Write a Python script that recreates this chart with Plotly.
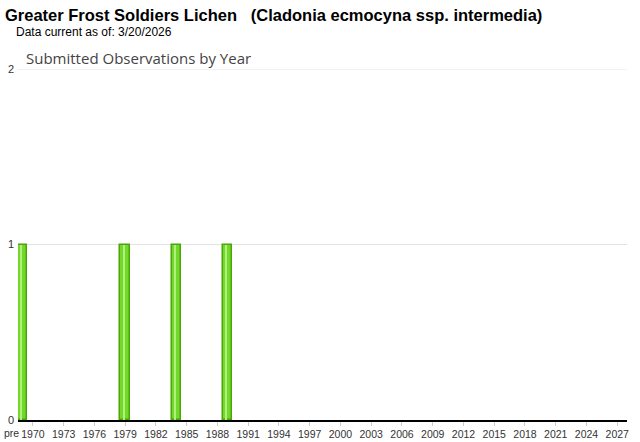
import plotly.graph_objects as go

years = [1969, 1979, 1984, 1989]   # 1969 slot represents "pre"
counts = [1, 1, 1, 1]
tick_years = list(range(1970, 2028, 3))
tick_labels = [str(y) for y in tick_years]

fig = go.Figure()
fig.add_trace(go.Bar(
    x=years, y=counts, width=0.92,
    marker=dict(color="#72d82c", line=dict(color="#4aa606", width=1.5)),
    hoverinfo="x+y",
))
# light highlight stripe on each bar (gradient look)
fig.add_trace(go.Bar(
    x=years, y=counts, width=0.2, offset=-0.22,
    marker=dict(color="#b2f07c", line=dict(width=0)),
    hoverinfo="skip",
))

fig.update_layout(
    width=640, height=442,
    margin=dict(l=18, r=13, t=69, b=22, autoexpand=False),
    paper_bgcolor="white", plot_bgcolor="white",
    showlegend=False,
    barmode="overlay",
    bargap=0,
    font=dict(family="Liberation Sans, Arial", size=11, color="#000"),
)
fig.update_xaxes(
    range=[1968.55, 2027.95], automargin=False,
    tickmode="array", tickvals=tick_years, ticktext=tick_labels,
    showgrid=False, showline=True, linecolor="#000", linewidth=1.5,
    ticks="outside", ticklen=4, tickcolor="#ccc",
    tickfont=dict(family="Liberation Sans, Arial", size=10.5, color="#333"),
    zeroline=False, fixedrange=True,
)
fig.update_yaxes(
    range=[0, 2], automargin=False,
    tickvals=[0, 1, 2], ticktext=["0", "1", "2"],
    showgrid=True, gridcolor="#e3e3e3", gridwidth=1,
    zeroline=False, showline=False, ticks="",
    ticklabelstandoff=3,
    tickfont=dict(family="Liberation Sans, Arial", size=11, color="#333"),
    fixedrange=True,
)
fig.add_shape(type="line", xref="paper", yref="y", x0=0, x1=1, y0=2, y1=2,
              line=dict(color="#e3e3e3", width=1), layer="below")

fig.add_annotation(text="<b>Greater Frost Soldiers Lichen &nbsp; (Cladonia ecmocyna ssp. intermedia)</b>",
                   xref="paper", yref="paper", x=-15/609, y=1 + 54/351,
                   xanchor="left", yanchor="middle", showarrow=False,
                   font=dict(family="Liberation Sans, Arial", size=16.5, color="#000"))
fig.add_annotation(text="Data current as of: 3/20/2026",
                   xref="paper", yref="paper", x=-4/609, y=1 + 37/351,
                   xanchor="left", yanchor="middle", showarrow=False,
                   font=dict(family="Liberation Sans, Arial", size=12, color="#000"))
fig.add_annotation(text="Submitted Observations by Year",
                   xref="paper", yref="paper", x=6/609, y=1 + 11/351,
                   xanchor="left", yanchor="middle", showarrow=False,
                   font=dict(family="Open Sans, Noto Sans", size=15, color="#444"))
fig.add_annotation(text="pre", xref="paper", yref="paper",
                   x=-16/609, y=0, xanchor="left", yanchor="top", yshift=-5,
                   showarrow=False,
                   font=dict(family="Liberation Sans, Arial", size=10.5, color="#333"))

fig.write_html("out.html", config={"displayModeBar": False},
               post_script="document.body.style.margin='0px';")
